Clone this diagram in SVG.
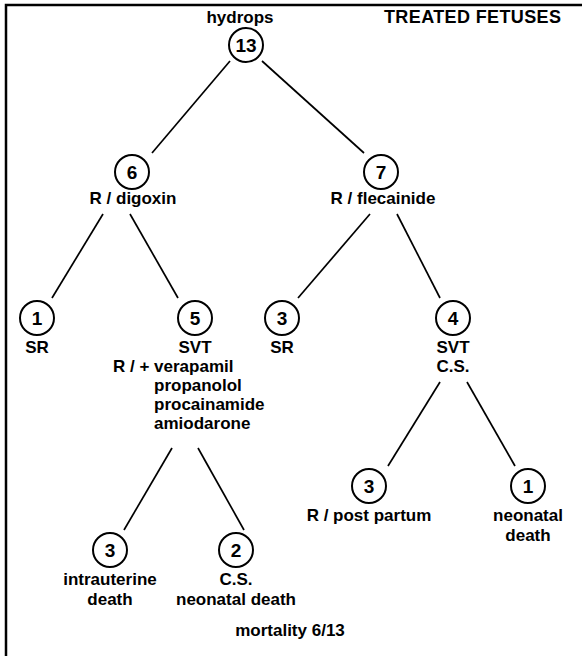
<svg xmlns="http://www.w3.org/2000/svg" width="582" height="656" viewBox="0 0 582 656">
<style>
text{font-family:"Liberation Sans",Arial,sans-serif;font-weight:bold;font-size:17px;fill:#000;text-anchor:middle}
.l{text-anchor:start}
.t{font-size:18px}
.n{font-size:19px}
circle{fill:#fff;stroke:#000;stroke-width:2}
.c line{stroke:#000;stroke-width:1.7}
</style>
<rect width="582" height="656" fill="#fff"/>
<g id="frame" stroke="#000" stroke-width="2.5" fill="none"><path d="M6,656 V5 H582"/></g>
<text x="240" y="23">hydrops</text>
<text x="384" y="23" class="l t" textLength="177">TREATED FETUSES</text>
<g class="c" id="connectors">
<line x1="230" y1="61" x2="152" y2="153"/>
<line x1="262" y1="61" x2="364" y2="153"/>
<line x1="103" y1="214" x2="52" y2="298"/>
<line x1="130" y1="214" x2="178" y2="298"/>
<line x1="370" y1="214" x2="298" y2="298"/>
<line x1="397" y1="214" x2="440" y2="298"/>
<line x1="440" y1="382" x2="388" y2="466"/>
<line x1="467" y1="382" x2="515" y2="466"/>
<line x1="172" y1="448" x2="124" y2="530"/>
<line x1="198" y1="448" x2="244" y2="530"/>
</g>
<g id="n13"><circle cx="246" cy="45" r="17"/><text class="n" x="246" y="52">13</text></g>
<g id="n6"><circle cx="132" cy="172" r="17"/><text class="n" x="132" y="179">6</text><text x="133" y="204">R / digoxin</text></g>
<g id="n7"><circle cx="381" cy="172" r="17"/><text class="n" x="381" y="179">7</text><text x="383" y="204">R / flecainide</text></g>
<g id="n1a"><circle cx="37" cy="318" r="17"/><text class="n" x="37" y="325">1</text><text x="37" y="353">SR</text></g>
<g id="n5"><circle cx="195" cy="318" r="17"/><text class="n" x="195" y="325">5</text><text x="195" y="353">SVT</text>
<text x="113" y="372" class="l">R / + verapamil</text><text x="154" y="391" class="l">propanolol</text><text x="154" y="410" class="l">procainamide</text><text x="154" y="429" class="l">amiodarone</text></g>
<g id="n3a"><circle cx="282" cy="318" r="17"/><text class="n" x="282" y="325">3</text><text x="282" y="353">SR</text></g>
<g id="n4"><circle cx="453" cy="318" r="17"/><text class="n" x="453" y="325">4</text><text x="453" y="353">SVT</text><text x="453" y="372">C.S.</text></g>
<g id="n3b"><circle cx="369" cy="486" r="17"/><text class="n" x="369" y="493">3</text><text x="369" y="521">R / post partum</text></g>
<g id="n1b"><circle cx="528" cy="486" r="17"/><text class="n" x="528" y="493">1</text><text x="528" y="521">neonatal</text><text x="528" y="541">death</text></g>
<g id="n3c"><circle cx="110" cy="550" r="17"/><text class="n" x="110" y="557">3</text><text x="110" y="585">intrauterine</text><text x="110" y="605">death</text></g>
<g id="n2"><circle cx="236" cy="550" r="17"/><text class="n" x="236" y="557">2</text><text x="236" y="585">C.S.</text><text x="236" y="605">neonatal death</text></g>
<text x="290" y="636">mortality 6/13</text>
</svg>
